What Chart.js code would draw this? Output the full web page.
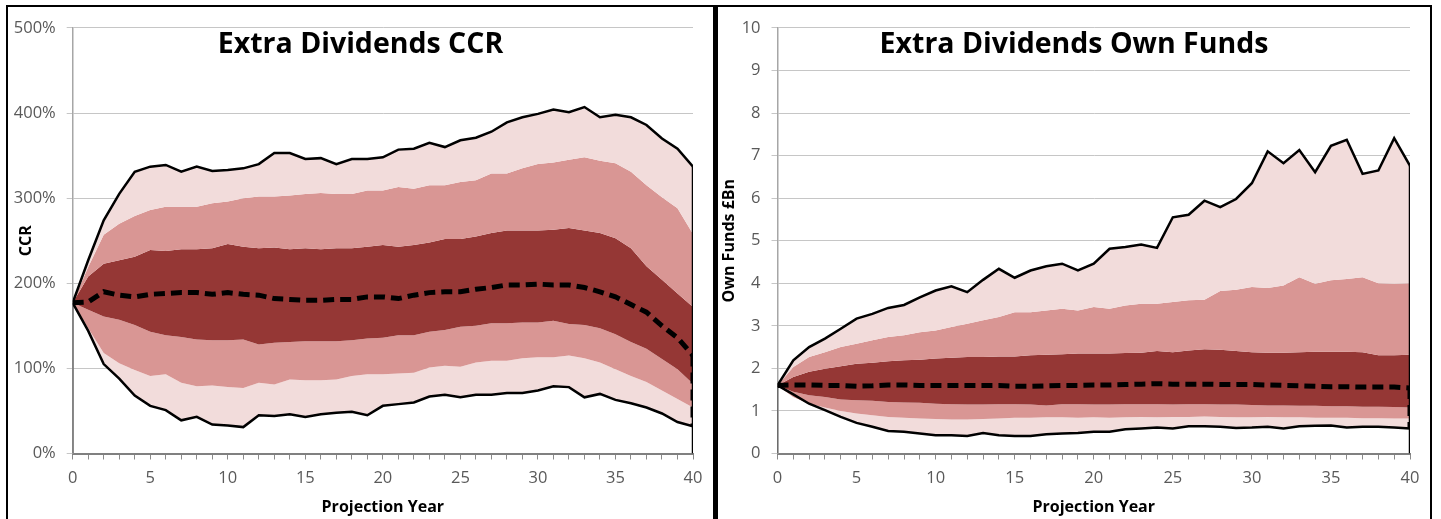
<!DOCTYPE html>
<html>
<head>
<meta charset="utf-8">
<script src="https://cdn.jsdelivr.net/npm/chart.js@4.4.1/dist/chart.umd.min.js"></script>
<style>
  html, body { margin: 0; padding: 0; background: #fff; width: 1441px; height: 519px; overflow: hidden; }
  .panel { position: absolute; top: 5px; height: 560px; box-sizing: border-box; border-top: 2px solid #000; }
  #p1 { left: 6px; width: 709px; border-left: 2px solid #000; border-right: 2px solid #000; }
  #p2 { left: 715px; width: 717px; border-left: 3px solid #000; border-right: 2px solid #000; }
  canvas { position: absolute; top: 0; left: 0; }
</style>
</head>
<body>
<div class="panel" id="p1"><canvas id="ccr" width="705" height="512"></canvas></div>
<div class="panel" id="p2"><canvas id="funds" width="712" height="512"></canvas></div>
<script>
const years = Array.from({length: 41}, (_, i) => i);

// CCR fan (%)
const ccrMax = [177,227,274,305,331,337,339,331,337,332,333,335,340,353,353,346,347,340,346,346,348,357,358,365,360,368,371,378,389,395,399,404,401,407,395,398,395,386,370,358,337];
const ccrP95 = [177,219,257,270,279,286,290,290,290,294,296,300,302,302,303,305,306,305,305,309,309,313,311,315,315,319,321,329,329,335,340,342,345,348,344,341,331,315,301,288,258];
const ccrP75 = [177,208,223,227,231,239,238,240,240,241,246,243,241,242,240,241,240,241,241,243,245,243,245,248,252,252,255,259,262,262,262,263,265,262,259,253,241,220,204,188,172];
const ccrMed = [177,178,190,186,184,187,188,189,189,187,189,187,186,182,181,180,180,181,181,184,184,182,186,189,190,190,193,195,198,198,199,198,198,195,190,184,175,166,150,136,115];
const ccrP25 = [177,169,161,157,151,143,139,137,134,133,133,134,128,130,131,132,132,132,133,135,136,139,139,143,145,149,150,153,153,154,154,156,152,151,147,140,131,123,111,99,82];
const ccrP5  = [177,147,118,106,98,91,93,83,79,80,78,77,83,81,87,86,86,87,91,93,93,94,95,101,103,102,107,109,109,112,113,113,115,112,107,99,91,84,74,64,54];
const ccrMin = [177,144,105,88,68,56,51,39,43,34,33,31,45,44,46,43,46,48,49,45,56,58,60,67,69,66,69,69,71,71,74,79,78,66,70,63,59,54,47,37,32];

// Own funds fan (GBP bn)
const ofMax = [1.60,2.19,2.50,2.70,2.93,3.17,3.28,3.42,3.49,3.67,3.83,3.93,3.79,4.08,4.34,4.13,4.30,4.40,4.46,4.30,4.46,4.81,4.85,4.91,4.83,5.55,5.61,5.94,5.79,5.98,6.35,7.10,6.82,7.13,6.61,7.23,7.37,6.57,6.65,7.41,6.76];
const ofP95 = [1.60,2.03,2.27,2.38,2.50,2.58,2.66,2.74,2.78,2.85,2.89,2.97,3.05,3.13,3.21,3.32,3.32,3.36,3.40,3.36,3.44,3.40,3.48,3.52,3.52,3.56,3.60,3.61,3.82,3.85,3.91,3.89,3.95,4.14,3.99,4.07,4.10,4.14,4.00,3.99,4.00];
const ofP75 = [1.60,1.80,1.92,1.99,2.05,2.11,2.13,2.17,2.19,2.20,2.23,2.25,2.27,2.27,2.28,2.28,2.31,2.32,2.33,2.35,2.35,2.35,2.36,2.37,2.41,2.38,2.42,2.45,2.44,2.41,2.38,2.37,2.37,2.38,2.39,2.39,2.39,2.38,2.31,2.31,2.32];
const ofMed = [1.60,1.61,1.61,1.60,1.60,1.58,1.59,1.61,1.61,1.60,1.60,1.60,1.60,1.60,1.60,1.58,1.58,1.59,1.60,1.60,1.61,1.61,1.62,1.63,1.64,1.63,1.63,1.63,1.62,1.62,1.62,1.61,1.60,1.59,1.58,1.57,1.57,1.56,1.56,1.56,1.54];
const ofP25 = [1.60,1.45,1.37,1.33,1.27,1.25,1.24,1.21,1.20,1.19,1.17,1.16,1.15,1.15,1.16,1.16,1.15,1.13,1.16,1.16,1.15,1.15,1.16,1.16,1.16,1.15,1.16,1.16,1.15,1.15,1.14,1.13,1.13,1.12,1.12,1.11,1.11,1.10,1.10,1.09,1.08];
const ofP5  = [1.60,1.33,1.17,1.08,1.00,0.94,0.90,0.86,0.84,0.82,0.81,0.80,0.80,0.81,0.82,0.84,0.84,0.85,0.85,0.84,0.85,0.84,0.85,0.86,0.85,0.86,0.86,0.87,0.86,0.85,0.85,0.86,0.85,0.85,0.84,0.84,0.84,0.83,0.83,0.82,0.82];
const ofMin = [1.60,1.39,1.17,1.02,0.86,0.72,0.63,0.53,0.51,0.47,0.43,0.43,0.41,0.48,0.43,0.41,0.41,0.45,0.47,0.48,0.51,0.51,0.57,0.59,0.61,0.59,0.64,0.64,0.63,0.60,0.61,0.63,0.59,0.64,0.65,0.66,0.61,0.63,0.63,0.61,0.59];

const LIGHT = "#f2dcdb", MID = "#d99694", DARK = "#953735";
const FONT = "'Open Sans', sans-serif";

const titlePlugin = {
  id: "panelTitle",
  afterDraw(chart, args, opts) {
    const ctx = chart.ctx;
    ctx.save();
    ctx.font = "bold 28.5px " + FONT;
    ctx.fillStyle = "#000";
    ctx.textAlign = "center";
    ctx.textBaseline = "alphabetic";
    ctx.fillText(opts.text, chart.width / 2, opts.y);
    ctx.restore();
  }
};

function pts(arr) {
  return years.map((x, i) => ({x: x, y: arr[i]}));
}

function band(arr, target, color) {
  return {data: pts(arr), borderWidth: 0, borderColor: "transparent",
    fill: {target: target, above: color, below: color}};
}

function buildChart(id, s, yOpts) {
  const last = years.length - 1;
  const datasets = [
    {data: pts(s.med), borderColor: "#000", borderWidth: 5, borderDash: [11, 6], fill: false},
    {data: pts(s.max), borderColor: "#000", borderWidth: 2.5, fill: {target: 2, above: LIGHT, below: LIGHT}},
    band(s.p95, 3, MID),
    band(s.p75, 4, DARK),
    band(s.p25, 5, MID),
    band(s.p5, 6, LIGHT),
    {data: pts(s.min), borderColor: "#000", borderWidth: 2.5, fill: false},
    // closing edges of the fan at year 40 and year 0
    {data: [{x: years[last], y: s.max[last]}, {x: years[last], y: 0}], borderColor: "#000", borderWidth: 2.5, fill: false},
    {data: [{x: years[last], y: s.med[last]}, {x: years[last], y: s.min[last]}], borderColor: "#000", borderWidth: 5, borderDash: [11, 6], fill: false},
    {data: [{x: years[0], y: s.min[0]}, {x: years[0], y: 0}], borderColor: "#333", borderWidth: 1.5, fill: false}
  ];

  return new Chart(document.getElementById(id), {
    type: "line",
    data: {datasets: datasets},
    plugins: [titlePlugin],
    options: {
      responsive: false,
      animation: false,
      events: [],
      elements: {point: {radius: 0}, line: {tension: 0, borderCapStyle: "butt"}},
      layout: {padding: {top: 20.3, right: s.padRight, left: 0, bottom: 0}},
      plugins: {
        legend: {display: false},
        tooltip: {enabled: false},
        filler: {drawTime: "beforeDatasetsDraw"},
        panelTitle: {text: s.title, y: 46}
      },
      scales: {
        x: {
          type: "linear", min: 0, max: 40,
          afterFit(scale) { scale.height = 65.5; },
          ticks: {
            stepSize: 1, autoSkip: false, maxRotation: 0, padding: 9,
            color: "#595959", font: {family: FONT, size: 16.5},
            callback: v => (v % 5 === 0 ? v : "")
          },
          grid: {drawOnChartArea: false, drawTicks: true, tickLength: 6, color: "#8a8a8a", lineWidth: 1},
          border: {display: true, color: "#808080", width: 2},
          title: {display: true, text: "Projection Year", color: "#000",
            font: {family: FONT, size: 16, weight: "bold"}, padding: {top: 0, bottom: 2}}
        },
        y: {
          min: yOpts.min, max: yOpts.max,
          afterFit(scale) { scale.width = s.axisWidth; },
          ticks: {
            stepSize: yOpts.step, padding: 11,
            color: "#595959", font: {family: FONT, size: 16.5},
            callback: yOpts.fmt
          },
          grid: {color: "#c6c6c6", lineWidth: 1, drawTicks: true, tickLength: 6},
          border: {display: true, color: "#a6a6a6", width: 1.5},
          title: {display: true, text: s.yTitle, color: "#000",
            font: {family: FONT, size: 16, weight: "bold"}, padding: {top: s.yTitlePad, bottom: 0}}
        }
      }
    }
  });
}

buildChart("ccr", {
  title: "Extra Dividends CCR", yTitle: "CCR", yTitlePad: 9, axisWidth: 64.7, padRight: 20,
  max: ccrMax, p95: ccrP95, p75: ccrP75, med: ccrMed, p25: ccrP25, p5: ccrP5, min: ccrMin
}, {min: 0, max: 500, step: 100, fmt: v => v + "%"});

buildChart("funds", {
  title: "Extra Dividends Own Funds", yTitle: "Own Funds £Bn", yTitlePad: 1.5, axisWidth: 59.5, padRight: 20,
  max: ofMax, p95: ofP95, p75: ofP75, med: ofMed, p25: ofP25, p5: ofP5, min: ofMin
}, {min: 0, max: 10, step: 1, fmt: v => v});
</script>
</body>
</html>
